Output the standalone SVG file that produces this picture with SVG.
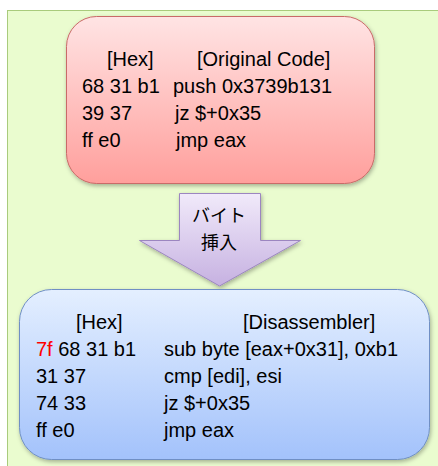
<svg xmlns="http://www.w3.org/2000/svg" width="438" height="466" viewBox="0 0 438 466">
<defs>
<linearGradient id="gRed" x1="0" y1="0" x2="0" y2="1"><stop offset="0" stop-color="#ffe4e4"/><stop offset="1" stop-color="#ff9f9c"/></linearGradient>
<linearGradient id="gBlue" x1="0" y1="0" x2="0" y2="1"><stop offset="0" stop-color="#e4efff"/><stop offset="1" stop-color="#a3c2fb"/></linearGradient>
<linearGradient id="gPurple" x1="0" y1="0" x2="0" y2="1"><stop offset="0" stop-color="#f1eafa"/><stop offset="1" stop-color="#c6b1e1"/></linearGradient>
<filter id="sh" x="-10%" y="-10%" width="120%" height="125%"><feDropShadow dx="1" dy="2" stdDeviation="2" flood-color="#000" flood-opacity="0.3"/></filter>
<style>
.t{font-family:"Liberation Sans",Arial,sans-serif;font-size:20px;fill:#000}
.j{font-family:"Noto Sans CJK JP","Noto Sans CJK SC",sans-serif;font-size:18px;fill:#000;text-anchor:middle}
</style>
</defs>
<rect x="0" y="0" width="438" height="466" fill="#ffffff"/>
<rect x="7.5" y="10.5" width="440" height="470" fill="#eafccf" stroke="#a9cb7c" stroke-width="1"/>
<g id="original">
<rect x="66.5" y="16.5" width="308" height="167" rx="30" fill="url(#gRed)" stroke="#c96a68" stroke-width="1" filter="url(#sh)"/>
<text class="t" x="107" y="66">[Hex]</text>
<text class="t" x="197" y="66">[Original Code]</text>
<text class="t" x="82" y="93">68 31 b1</text>
<text class="t" x="173" y="93">push 0x3739b131</text>
<text class="t" x="82" y="120">39 37</text>
<text class="t" x="175" y="120">jz $+0x35</text>
<text class="t" x="82" y="147">ff e0</text>
<text class="t" x="176" y="147">jmp eax</text>
</g>
<g id="connectors">
<g id="insert-arrow">
<path d="M179.5,193.5 H260.5 V240.5 H300.5 L219.5,286 L139.5,240.5 H179.5 Z" fill="url(#gPurple)" stroke="#9c86c0" stroke-width="1" filter="url(#sh)"/>
<text class="j" x="219" y="222">バイト</text>
<text class="j" x="219" y="249">挿入</text>
</g>
</g>
<g id="disassembled">
<rect x="19.5" y="289.5" width="410" height="170" rx="32" fill="url(#gBlue)" stroke="#6f8fc4" stroke-width="1" filter="url(#sh)"/>
<text class="t" x="76" y="329">[Hex]</text>
<text class="t" x="243" y="329">[Disassembler]</text>
<text class="t" x="36" y="356"><tspan fill="#ff0000">7f</tspan> 68 31 b1</text>
<text class="t" x="164" y="356">sub byte [eax+0x31], 0xb1</text>
<text class="t" x="36" y="383">31 37</text>
<text class="t" x="164" y="383">cmp [edi], esi</text>
<text class="t" x="36" y="410">74 33</text>
<text class="t" x="164" y="410">jz $+0x35</text>
<text class="t" x="36" y="437">ff e0</text>
<text class="t" x="164" y="437">jmp eax</text>
</g>
</svg>
